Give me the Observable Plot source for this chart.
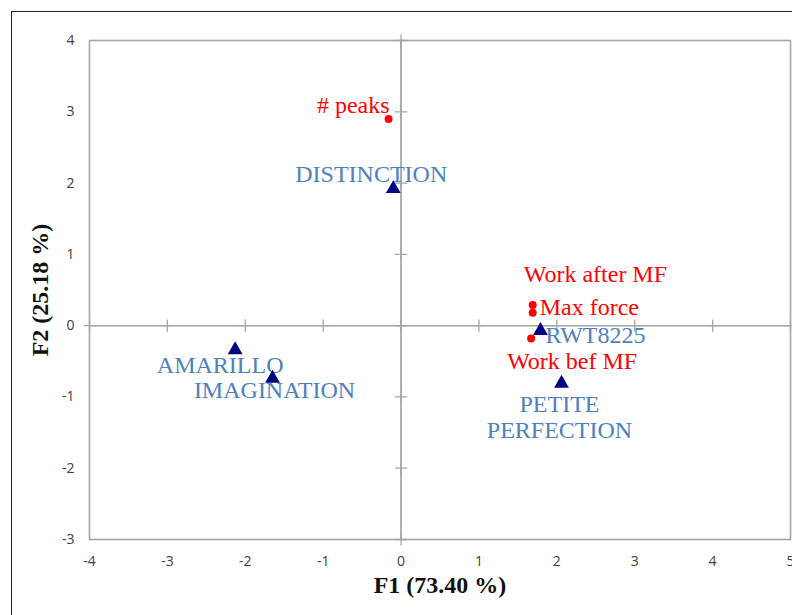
<!DOCTYPE html>
<html>
<head>
<meta charset="utf-8">
<script src="https://cdn.jsdelivr.net/npm/d3@7"></script>
<script src="https://cdn.jsdelivr.net/npm/@observablehq/plot@0.6"></script>
<style>
  html, body { margin: 0; padding: 0; background: #fff; }
  #wrap { position: relative; width: 792px; height: 615px; overflow: hidden; }
  #border { position: absolute; left: 11px; top: 11px; width: 800px; height: 700px;
            border-left: 1.5px solid #222; border-top: 1.5px solid #222; }
  #chart { position: absolute; left: 0; top: 0; }
</style>
</head>
<body>
<div id="wrap"><div id="border"></div><div id="chart"></div></div>
<script>
// Variables (red dots)
const varNames = ["# peaks", "Work after MF", "Max force", "Work bef MF"];
const varF1 = [-0.16, 1.69, 1.69, 1.67];
const varF2 = [2.90, 0.29, 0.18, -0.18];

// Observations (navy triangles)
const obsNames = ["DISTINCTION", "AMARILLO", "IMAGINATION", "RWT8225", "PETITE\nPERFECTION"];
const obsF1 = [-0.10, -2.13, -1.65, 1.79, 2.06];
const obsF2 = [1.92, -0.34, -0.74, -0.07, -0.81];

// Axis ticks and titles
const xTicks = [-4, -3, -2, -1, 0, 1, 2, 3, 4, 5];
const yTicks = [-3, -2, -1, 0, 1, 2, 3, 4];
const xTitle = "F1 (73.40 %)";
const yTitle = "F2 (25.18 %)";

// Label placement (pixel offsets, layout only)
const varLabelPos = [
  {anchor: "end", dx: 1, dy: -14},
  {anchor: "start", dx: -9, dy: -31},
  {anchor: "start", dx: 7, dy: -5},
  {anchor: "start", dx: -24, dy: 23}
];
const obsLabelPos = [
  {anchor: "middle", dx: -22, dy: -15},
  {anchor: "middle", dx: -15, dy: 15},
  {anchor: "middle", dx: 2, dy: 11},
  {anchor: "start", dx: 5, dy: 4},
  {anchor: "middle", dx: -2, dy: 33}
];

const vars = varNames.map((n, i) => ({name: n, x: varF1[i], y: varF2[i], ...varLabelPos[i]}));
const obs = obsNames.map((n, i) => ({name: n, x: obsF1[i], y: obsF2[i], ...obsLabelPos[i]}));

const serif = "'Liberation Serif', 'Times New Roman', serif";
const grey = "#a6a6a6";
const fmt = d => String(d);

const labelMarks = [];
vars.forEach(d => labelMarks.push(Plot.text([d], {
  x: "x", y: "y", text: "name", textAnchor: d.anchor, dx: d.dx, dy: d.dy,
  fill: "#ff0000", fontFamily: serif, fontSize: 24
})));
obs.forEach(d => labelMarks.push(Plot.text([d], {
  x: "x", y: "y", text: "name", textAnchor: d.anchor, dx: d.dx, dy: d.dy,
  fill: "#4f81bd", fontFamily: serif, fontSize: 24, lineHeight: 1.12
})));

const chart = Plot.plot({
  width: 792,
  height: 615,
  marginLeft: 89,
  marginRight: 2,
  marginTop: 40,
  marginBottom: 76,
  style: {background: "transparent", fontFamily: "'Open Sans', sans-serif"},
  x: {domain: [-4, 5]},
  y: {domain: [-3, 4]},
  marks: [
    Plot.frame({stroke: grey, strokeWidth: 1.6}),
    Plot.ruleX([0], {stroke: grey, strokeWidth: 1.8}),
    Plot.ruleY([0], {stroke: grey, strokeWidth: 1.5}),
    Plot.dot(xTicks, {x: d => d, y: 0, symbol: "plus", r: 4, stroke: grey, strokeWidth: 1.3}),
    Plot.dot(yTicks, {x: 0, y: d => d, symbol: "plus", r: 4, stroke: grey, strokeWidth: 1.3}),
    Plot.axisX(xTicks, {tickSize: 0, tickPadding: 17, fontSize: 14, fill: "#404040", label: null, tickFormat: fmt}),
    Plot.axisY(yTicks, {tickSize: 0, tickPadding: 15, fontSize: 14, fill: "#404040", label: null, tickFormat: fmt}),
    Plot.text([xTitle], {frameAnchor: "bottom", dy: 53, fontFamily: serif, fontWeight: "bold",
      fontSize: 24, fill: "#111", text: d => d}),
    Plot.text([yTitle], {frameAnchor: "left", textAnchor: "middle", dx: -49, rotate: -90, fontFamily: serif,
      fontWeight: "bold", fontSize: 24, fill: "#111", text: d => d}),
    ...labelMarks,
    Plot.dot(vars, {x: "x", y: "y", r: 4, fill: "#ff0000", stroke: "none"}),
    Plot.dot(obs, {x: "x", y: "y", symbol: "triangle", r: 5.5, fill: "#000080", stroke: "none"})
  ]
});
document.getElementById("chart").appendChild(chart);
</script>
</body>
</html>
